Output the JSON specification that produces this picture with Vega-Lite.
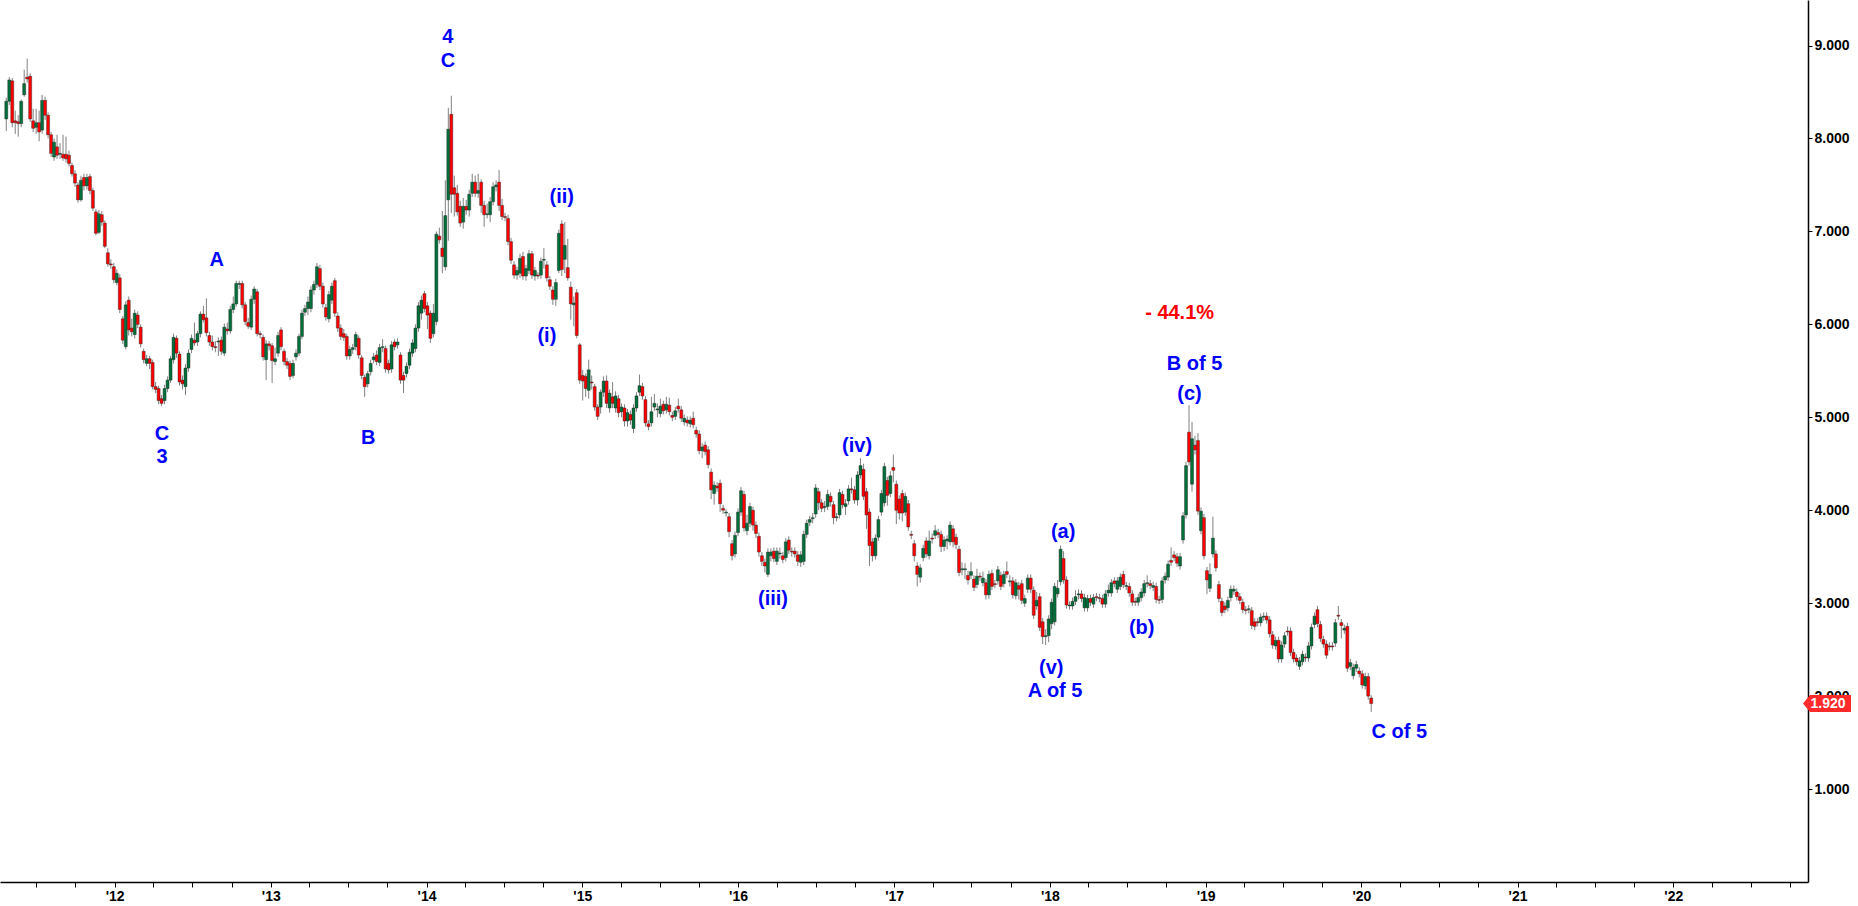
{
  "$schema": "https://vega.github.io/schema/vega-lite/v6.json",
  "description": "Weekly candlestick chart with Elliott wave labels",
  "width": 1808,
  "height": 882,
  "autosize": {"type": "none"},
  "padding": {"left": 0, "top": 0, "right": 50, "bottom": 24},
  "background": "white",
  "config": {"view": {"stroke": null}},
  "datasets": {
    "candles": [
      {"d":"2011-04-22","o":8.21,"h":8.44,"l":8.08,"c":8.40},
      {"d":"2011-04-29","o":8.40,"h":8.66,"l":8.36,"c":8.63},
      {"d":"2011-05-06","o":8.62,"h":8.65,"l":8.12,"c":8.17},
      {"d":"2011-05-13","o":8.19,"h":8.30,"l":8.05,"c":8.17},
      {"d":"2011-05-20","o":8.18,"h":8.25,"l":8.02,"c":8.16},
      {"d":"2011-05-27","o":8.16,"h":8.42,"l":8.12,"c":8.40},
      {"d":"2011-06-03","o":8.47,"h":8.74,"l":8.45,"c":8.59},
      {"d":"2011-06-10","o":8.66,"h":8.86,"l":8.60,"c":8.64},
      {"d":"2011-06-17","o":8.67,"h":8.70,"l":8.18,"c":8.21},
      {"d":"2011-06-24","o":8.19,"h":8.32,"l":8.07,"c":8.11},
      {"d":"2011-07-01","o":8.12,"h":8.32,"l":8.05,"c":8.17},
      {"d":"2011-07-08","o":8.17,"h":8.30,"l":7.97,"c":8.07},
      {"d":"2011-07-15","o":8.09,"h":8.47,"l":8.05,"c":8.41},
      {"d":"2011-07-22","o":8.41,"h":8.45,"l":8.20,"c":8.25},
      {"d":"2011-07-29","o":8.25,"h":8.28,"l":8.00,"c":8.04},
      {"d":"2011-08-05","o":8.04,"h":8.07,"l":7.80,"c":7.84},
      {"d":"2011-08-12","o":7.80,"h":8.00,"l":7.76,"c":7.96},
      {"d":"2011-08-19","o":7.91,"h":8.04,"l":7.78,"c":7.82},
      {"d":"2011-08-26","o":7.83,"h":7.95,"l":7.78,"c":7.84},
      {"d":"2011-09-02","o":7.83,"h":8.04,"l":7.76,"c":7.79},
      {"d":"2011-09-09","o":7.83,"h":8.02,"l":7.74,"c":7.78},
      {"d":"2011-09-16","o":7.82,"h":7.87,"l":7.70,"c":7.73},
      {"d":"2011-09-23","o":7.71,"h":7.74,"l":7.59,"c":7.62},
      {"d":"2011-09-30","o":7.62,"h":7.66,"l":7.48,"c":7.52},
      {"d":"2011-10-07","o":7.50,"h":7.53,"l":7.31,"c":7.34},
      {"d":"2011-10-14","o":7.34,"h":7.60,"l":7.32,"c":7.55},
      {"d":"2011-10-21","o":7.58,"h":7.62,"l":7.44,"c":7.49},
      {"d":"2011-10-28","o":7.49,"h":7.62,"l":7.45,"c":7.58},
      {"d":"2011-11-04","o":7.59,"h":7.62,"l":7.40,"c":7.44},
      {"d":"2011-11-11","o":7.44,"h":7.47,"l":7.22,"c":7.25},
      {"d":"2011-11-18","o":7.21,"h":7.24,"l":6.96,"c":6.98},
      {"d":"2011-11-25","o":6.99,"h":7.23,"l":6.97,"c":7.19},
      {"d":"2011-12-02","o":7.18,"h":7.22,"l":7.06,"c":7.10},
      {"d":"2011-12-09","o":7.09,"h":7.12,"l":6.82,"c":6.84},
      {"d":"2011-12-16","o":6.77,"h":6.82,"l":6.62,"c":6.65},
      {"d":"2011-12-23","o":6.65,"h":6.70,"l":6.60,"c":6.64},
      {"d":"2011-12-30","o":6.62,"h":6.66,"l":6.44,"c":6.48},
      {"d":"2012-01-06","o":6.45,"h":6.59,"l":6.42,"c":6.55},
      {"d":"2012-01-13","o":6.50,"h":6.54,"l":6.12,"c":6.16},
      {"d":"2012-01-20","o":6.06,"h":6.09,"l":5.79,"c":5.83},
      {"d":"2012-01-27","o":5.76,"h":6.25,"l":5.73,"c":6.21},
      {"d":"2012-02-03","o":6.26,"h":6.30,"l":5.88,"c":5.94},
      {"d":"2012-02-10","o":5.96,"h":6.06,"l":5.87,"c":5.92},
      {"d":"2012-02-17","o":5.89,"h":6.16,"l":5.85,"c":6.12},
      {"d":"2012-02-24","o":6.10,"h":6.14,"l":5.96,"c":6.00},
      {"d":"2012-03-02","o":5.97,"h":6.00,"l":5.75,"c":5.79},
      {"d":"2012-03-09","o":5.71,"h":5.74,"l":5.58,"c":5.62},
      {"d":"2012-03-16","o":5.58,"h":5.67,"l":5.55,"c":5.63},
      {"d":"2012-03-23","o":5.63,"h":5.66,"l":5.52,"c":5.58},
      {"d":"2012-03-30","o":5.59,"h":5.62,"l":5.30,"c":5.33},
      {"d":"2012-04-06","o":5.33,"h":5.38,"l":5.26,"c":5.30},
      {"d":"2012-04-13","o":5.31,"h":5.34,"l":5.14,"c":5.18},
      {"d":"2012-04-20","o":5.20,"h":5.24,"l":5.12,"c":5.15},
      {"d":"2012-04-27","o":5.18,"h":5.35,"l":5.14,"c":5.31},
      {"d":"2012-05-04","o":5.31,"h":5.44,"l":5.27,"c":5.40},
      {"d":"2012-05-11","o":5.40,"h":5.66,"l":5.37,"c":5.63},
      {"d":"2012-05-18","o":5.62,"h":5.90,"l":5.58,"c":5.86},
      {"d":"2012-05-25","o":5.85,"h":5.88,"l":5.64,"c":5.69},
      {"d":"2012-06-01","o":5.68,"h":5.71,"l":5.34,"c":5.38},
      {"d":"2012-06-08","o":5.40,"h":5.45,"l":5.30,"c":5.36},
      {"d":"2012-06-15","o":5.33,"h":5.57,"l":5.24,"c":5.53},
      {"d":"2012-06-22","o":5.53,"h":5.73,"l":5.49,"c":5.69},
      {"d":"2012-06-29","o":5.73,"h":5.89,"l":5.69,"c":5.85},
      {"d":"2012-07-06","o":5.83,"h":6.02,"l":5.77,"c":5.80},
      {"d":"2012-07-13","o":5.81,"h":5.93,"l":5.77,"c":5.90},
      {"d":"2012-07-20","o":5.90,"h":6.14,"l":5.86,"c":6.11},
      {"d":"2012-07-27","o":6.11,"h":6.20,"l":6.02,"c":6.05},
      {"d":"2012-08-03","o":6.07,"h":6.28,"l":5.87,"c":5.91},
      {"d":"2012-08-10","o":5.88,"h":5.92,"l":5.77,"c":5.81},
      {"d":"2012-08-17","o":5.81,"h":5.88,"l":5.72,"c":5.76},
      {"d":"2012-08-24","o":5.76,"h":5.82,"l":5.70,"c":5.75},
      {"d":"2012-08-31","o":5.81,"h":5.86,"l":5.66,"c":5.82},
      {"d":"2012-09-07","o":5.83,"h":5.87,"l":5.67,"c":5.71},
      {"d":"2012-09-14","o":5.69,"h":6.01,"l":5.66,"c":5.97},
      {"d":"2012-09-21","o":5.95,"h":6.02,"l":5.89,"c":5.93},
      {"d":"2012-09-28","o":5.93,"h":6.20,"l":5.90,"c":6.16},
      {"d":"2012-10-05","o":6.16,"h":6.30,"l":6.12,"c":6.22},
      {"d":"2012-10-12","o":6.22,"h":6.47,"l":6.19,"c":6.44},
      {"d":"2012-10-19","o":6.43,"h":6.47,"l":6.38,"c":6.44},
      {"d":"2012-10-26","o":6.44,"h":6.47,"l":6.17,"c":6.21},
      {"d":"2012-11-02","o":6.21,"h":6.24,"l":5.99,"c":6.03},
      {"d":"2012-11-09","o":6.02,"h":6.07,"l":5.95,"c":5.98},
      {"d":"2012-11-16","o":5.97,"h":6.31,"l":5.94,"c":6.27},
      {"d":"2012-11-23","o":6.27,"h":6.41,"l":6.22,"c":6.38},
      {"d":"2012-11-30","o":6.35,"h":6.38,"l":5.87,"c":5.90},
      {"d":"2012-12-07","o":5.90,"h":5.93,"l":5.85,"c":5.89},
      {"d":"2012-12-14","o":5.86,"h":5.89,"l":5.61,"c":5.65},
      {"d":"2012-12-21","o":5.62,"h":5.83,"l":5.40,"c":5.79},
      {"d":"2012-12-28","o":5.79,"h":5.82,"l":5.72,"c":5.77},
      {"d":"2013-01-04","o":5.77,"h":5.80,"l":5.37,"c":5.61},
      {"d":"2013-01-11","o":5.60,"h":5.75,"l":5.56,"c":5.63},
      {"d":"2013-01-18","o":5.69,"h":5.92,"l":5.65,"c":5.88},
      {"d":"2013-01-25","o":5.94,"h":5.97,"l":5.72,"c":5.76},
      {"d":"2013-02-01","o":5.71,"h":5.74,"l":5.56,"c":5.60},
      {"d":"2013-02-08","o":5.60,"h":5.64,"l":5.52,"c":5.56},
      {"d":"2013-02-15","o":5.58,"h":5.61,"l":5.40,"c":5.44},
      {"d":"2013-02-22","o":5.45,"h":5.62,"l":5.42,"c":5.58},
      {"d":"2013-03-01","o":5.65,"h":5.73,"l":5.61,"c":5.69},
      {"d":"2013-03-08","o":5.69,"h":5.90,"l":5.66,"c":5.87},
      {"d":"2013-03-15","o":5.87,"h":6.16,"l":5.84,"c":6.12},
      {"d":"2013-03-22","o":6.13,"h":6.21,"l":6.09,"c":6.17},
      {"d":"2013-03-29","o":6.17,"h":6.30,"l":6.10,"c":6.24},
      {"d":"2013-04-05","o":6.17,"h":6.41,"l":6.13,"c":6.37},
      {"d":"2013-04-12","o":6.37,"h":6.47,"l":6.32,"c":6.43},
      {"d":"2013-04-19","o":6.43,"h":6.66,"l":6.39,"c":6.62},
      {"d":"2013-04-26","o":6.60,"h":6.64,"l":6.37,"c":6.41},
      {"d":"2013-05-03","o":6.41,"h":6.45,"l":6.18,"c":6.22},
      {"d":"2013-05-10","o":6.18,"h":6.22,"l":6.04,"c":6.08},
      {"d":"2013-05-17","o":6.06,"h":6.36,"l":6.02,"c":6.32},
      {"d":"2013-05-24","o":6.26,"h":6.45,"l":6.22,"c":6.41},
      {"d":"2013-05-31","o":6.47,"h":6.50,"l":6.08,"c":6.12},
      {"d":"2013-06-07","o":6.09,"h":6.13,"l":5.92,"c":5.96},
      {"d":"2013-06-14","o":5.96,"h":6.00,"l":5.83,"c":5.87},
      {"d":"2013-06-21","o":5.90,"h":5.95,"l":5.82,"c":5.86},
      {"d":"2013-06-28","o":5.87,"h":5.90,"l":5.62,"c":5.66},
      {"d":"2013-07-05","o":5.66,"h":5.77,"l":5.62,"c":5.73},
      {"d":"2013-07-12","o":5.73,"h":5.79,"l":5.68,"c":5.75},
      {"d":"2013-07-19","o":5.76,"h":5.92,"l":5.72,"c":5.89},
      {"d":"2013-07-26","o":5.85,"h":5.88,"l":5.63,"c":5.67},
      {"d":"2013-08-02","o":5.64,"h":5.67,"l":5.41,"c":5.45},
      {"d":"2013-08-09","o":5.43,"h":5.46,"l":5.22,"c":5.33},
      {"d":"2013-08-16","o":5.36,"h":5.50,"l":5.32,"c":5.47},
      {"d":"2013-08-23","o":5.49,"h":5.62,"l":5.45,"c":5.58},
      {"d":"2013-08-30","o":5.62,"h":5.69,"l":5.58,"c":5.65},
      {"d":"2013-09-06","o":5.67,"h":5.72,"l":5.56,"c":5.60},
      {"d":"2013-09-13","o":5.59,"h":5.79,"l":5.55,"c":5.75},
      {"d":"2013-09-20","o":5.75,"h":5.84,"l":5.70,"c":5.76},
      {"d":"2013-09-27","o":5.74,"h":5.77,"l":5.48,"c":5.52},
      {"d":"2013-10-04","o":5.58,"h":5.62,"l":5.47,"c":5.51},
      {"d":"2013-10-11","o":5.52,"h":5.82,"l":5.48,"c":5.78},
      {"d":"2013-10-18","o":5.81,"h":5.84,"l":5.72,"c":5.76},
      {"d":"2013-10-25","o":5.78,"h":5.85,"l":5.74,"c":5.81},
      {"d":"2013-11-01","o":5.67,"h":5.70,"l":5.36,"c":5.40},
      {"d":"2013-11-08","o":5.45,"h":5.49,"l":5.26,"c":5.40},
      {"d":"2013-11-15","o":5.47,"h":5.59,"l":5.43,"c":5.55},
      {"d":"2013-11-22","o":5.56,"h":5.74,"l":5.52,"c":5.70},
      {"d":"2013-11-29","o":5.69,"h":5.84,"l":5.65,"c":5.80},
      {"d":"2013-12-06","o":5.74,"h":6.00,"l":5.70,"c":5.96},
      {"d":"2013-12-13","o":5.96,"h":6.24,"l":5.92,"c":6.20},
      {"d":"2013-12-20","o":6.12,"h":6.31,"l":6.05,"c":6.26},
      {"d":"2013-12-27","o":6.33,"h":6.36,"l":6.13,"c":6.17},
      {"d":"2014-01-03","o":6.20,"h":6.24,"l":5.95,"c":6.10},
      {"d":"2014-01-10","o":6.12,"h":6.15,"l":5.80,"c":5.85},
      {"d":"2014-01-17","o":5.90,"h":6.22,"l":5.86,"c":6.12},
      {"d":"2014-01-24","o":6.03,"h":7.00,"l":5.99,"c":6.97},
      {"d":"2014-01-31","o":6.95,"h":7.04,"l":6.87,"c":6.91},
      {"d":"2014-02-07","o":6.82,"h":7.22,"l":6.55,"c":6.73},
      {"d":"2014-02-14","o":6.62,"h":7.55,"l":6.58,"c":7.17},
      {"d":"2014-02-21","o":7.34,"h":8.33,"l":6.90,"c":8.10},
      {"d":"2014-02-28","o":8.26,"h":8.46,"l":7.20,"c":7.40},
      {"d":"2014-03-07","o":7.47,"h":7.60,"l":7.16,"c":7.40},
      {"d":"2014-03-14","o":7.41,"h":7.50,"l":7.17,"c":7.21},
      {"d":"2014-03-21","o":7.27,"h":7.33,"l":7.05,"c":7.09},
      {"d":"2014-03-28","o":7.10,"h":7.36,"l":7.03,"c":7.27},
      {"d":"2014-04-04","o":7.27,"h":7.34,"l":7.18,"c":7.23},
      {"d":"2014-04-11","o":7.23,"h":7.45,"l":7.16,"c":7.40},
      {"d":"2014-04-18","o":7.41,"h":7.62,"l":7.37,"c":7.53},
      {"d":"2014-04-25","o":7.53,"h":7.60,"l":7.37,"c":7.41},
      {"d":"2014-05-02","o":7.41,"h":7.62,"l":7.36,"c":7.44},
      {"d":"2014-05-09","o":7.53,"h":7.56,"l":7.20,"c":7.28},
      {"d":"2014-05-16","o":7.28,"h":7.33,"l":7.05,"c":7.18},
      {"d":"2014-05-23","o":7.18,"h":7.30,"l":7.14,"c":7.19},
      {"d":"2014-05-30","o":7.18,"h":7.37,"l":7.10,"c":7.32},
      {"d":"2014-06-06","o":7.32,"h":7.53,"l":7.28,"c":7.48},
      {"d":"2014-06-13","o":7.48,"h":7.55,"l":7.43,"c":7.50},
      {"d":"2014-06-20","o":7.53,"h":7.66,"l":7.22,"c":7.28},
      {"d":"2014-06-27","o":7.28,"h":7.35,"l":7.12,"c":7.16},
      {"d":"2014-07-04","o":7.16,"h":7.20,"l":7.11,"c":7.15},
      {"d":"2014-07-11","o":7.14,"h":7.18,"l":6.85,"c":6.89},
      {"d":"2014-07-18","o":6.89,"h":6.93,"l":6.65,"c":6.69},
      {"d":"2014-07-25","o":6.64,"h":6.68,"l":6.49,"c":6.53},
      {"d":"2014-08-01","o":6.53,"h":6.62,"l":6.48,"c":6.58},
      {"d":"2014-08-08","o":6.55,"h":6.76,"l":6.50,"c":6.71},
      {"d":"2014-08-15","o":6.73,"h":6.78,"l":6.48,"c":6.52},
      {"d":"2014-08-22","o":6.52,"h":6.64,"l":6.47,"c":6.60},
      {"d":"2014-08-29","o":6.58,"h":6.80,"l":6.54,"c":6.76},
      {"d":"2014-09-05","o":6.76,"h":6.79,"l":6.49,"c":6.53},
      {"d":"2014-09-12","o":6.52,"h":6.62,"l":6.47,"c":6.58},
      {"d":"2014-09-19","o":6.53,"h":6.56,"l":6.49,"c":6.52},
      {"d":"2014-09-26","o":6.53,"h":6.72,"l":6.49,"c":6.68},
      {"d":"2014-10-03","o":6.69,"h":6.82,"l":6.60,"c":6.70},
      {"d":"2014-10-10","o":6.64,"h":6.68,"l":6.46,"c":6.50},
      {"d":"2014-10-17","o":6.48,"h":6.52,"l":6.37,"c":6.41},
      {"d":"2014-10-24","o":6.37,"h":6.41,"l":6.21,"c":6.27},
      {"d":"2014-10-31","o":6.27,"h":6.49,"l":6.20,"c":6.45},
      {"d":"2014-11-07","o":6.58,"h":7.02,"l":6.55,"c":6.98},
      {"d":"2014-11-14","o":7.08,"h":7.12,"l":6.52,"c":6.59},
      {"d":"2014-11-21","o":6.70,"h":7.10,"l":6.55,"c":6.85},
      {"d":"2014-11-28","o":6.61,"h":6.92,"l":6.47,"c":6.50},
      {"d":"2014-12-05","o":6.40,"h":6.46,"l":6.05,"c":6.22},
      {"d":"2014-12-12","o":6.21,"h":6.30,"l":5.98,"c":6.23},
      {"d":"2014-12-19","o":6.34,"h":6.38,"l":5.85,"c":5.88},
      {"d":"2014-12-26","o":5.78,"h":5.80,"l":5.36,"c":5.40},
      {"d":"2015-01-02","o":5.45,"h":5.51,"l":5.18,"c":5.39},
      {"d":"2015-01-09","o":5.44,"h":5.47,"l":5.22,"c":5.31},
      {"d":"2015-01-16","o":5.29,"h":5.62,"l":5.20,"c":5.51},
      {"d":"2015-01-23","o":5.38,"h":5.45,"l":5.30,"c":5.37},
      {"d":"2015-01-30","o":5.33,"h":5.36,"l":5.07,"c":5.11},
      {"d":"2015-02-06","o":5.11,"h":5.14,"l":4.97,"c":5.01},
      {"d":"2015-02-13","o":5.11,"h":5.30,"l":5.04,"c":5.27},
      {"d":"2015-02-20","o":5.27,"h":5.44,"l":5.22,"c":5.39},
      {"d":"2015-02-27","o":5.39,"h":5.45,"l":5.10,"c":5.15},
      {"d":"2015-03-06","o":5.10,"h":5.30,"l":5.05,"c":5.26},
      {"d":"2015-03-13","o":5.22,"h":5.38,"l":5.10,"c":5.15},
      {"d":"2015-03-20","o":5.10,"h":5.28,"l":5.05,"c":5.23},
      {"d":"2015-03-27","o":5.20,"h":5.24,"l":5.00,"c":5.05},
      {"d":"2015-04-03","o":5.06,"h":5.15,"l":5.00,"c":5.11},
      {"d":"2015-04-10","o":5.10,"h":5.14,"l":4.90,"c":4.96},
      {"d":"2015-04-17","o":4.96,"h":5.09,"l":4.90,"c":5.05},
      {"d":"2015-04-24","o":5.03,"h":5.07,"l":4.92,"c":4.97},
      {"d":"2015-05-01","o":4.88,"h":5.14,"l":4.83,"c":5.10},
      {"d":"2015-05-08","o":5.10,"h":5.27,"l":5.06,"c":5.23},
      {"d":"2015-05-15","o":5.27,"h":5.46,"l":5.23,"c":5.34},
      {"d":"2015-05-22","o":5.33,"h":5.37,"l":5.19,"c":5.23},
      {"d":"2015-05-29","o":5.19,"h":5.23,"l":4.90,"c":4.94},
      {"d":"2015-06-05","o":4.93,"h":4.97,"l":4.86,"c":4.90},
      {"d":"2015-06-12","o":4.94,"h":5.22,"l":4.90,"c":5.06},
      {"d":"2015-06-19","o":5.11,"h":5.25,"l":5.07,"c":5.15},
      {"d":"2015-06-26","o":5.08,"h":5.15,"l":5.00,"c":5.09},
      {"d":"2015-07-03","o":5.04,"h":5.20,"l":5.00,"c":5.12},
      {"d":"2015-07-10","o":5.14,"h":5.18,"l":5.03,"c":5.07},
      {"d":"2015-07-17","o":5.08,"h":5.22,"l":5.04,"c":5.14},
      {"d":"2015-07-24","o":5.13,"h":5.21,"l":5.02,"c":5.06},
      {"d":"2015-07-31","o":5.02,"h":5.06,"l":4.96,"c":5.00},
      {"d":"2015-08-07","o":5.01,"h":5.11,"l":4.97,"c":5.07},
      {"d":"2015-08-14","o":5.12,"h":5.20,"l":5.05,"c":5.09},
      {"d":"2015-08-21","o":5.08,"h":5.12,"l":4.95,"c":4.99},
      {"d":"2015-08-28","o":4.95,"h":5.03,"l":4.91,"c":4.99},
      {"d":"2015-09-04","o":4.97,"h":5.01,"l":4.90,"c":4.94},
      {"d":"2015-09-11","o":4.93,"h":5.01,"l":4.89,"c":4.97},
      {"d":"2015-09-18","o":4.99,"h":5.06,"l":4.88,"c":4.92},
      {"d":"2015-09-25","o":4.86,"h":4.90,"l":4.78,"c":4.82},
      {"d":"2015-10-02","o":4.82,"h":4.86,"l":4.60,"c":4.64},
      {"d":"2015-10-09","o":4.64,"h":4.72,"l":4.56,"c":4.68},
      {"d":"2015-10-16","o":4.70,"h":4.74,"l":4.59,"c":4.63},
      {"d":"2015-10-23","o":4.65,"h":4.69,"l":4.45,"c":4.49},
      {"d":"2015-10-30","o":4.41,"h":4.45,"l":4.12,"c":4.22},
      {"d":"2015-11-06","o":4.18,"h":4.31,"l":4.06,"c":4.27},
      {"d":"2015-11-13","o":4.26,"h":4.30,"l":4.20,"c":4.24},
      {"d":"2015-11-20","o":4.29,"h":4.33,"l":3.98,"c":4.07},
      {"d":"2015-11-27","o":4.02,"h":4.06,"l":3.96,"c":4.00},
      {"d":"2015-12-04","o":3.97,"h":4.01,"l":3.93,"c":3.98},
      {"d":"2015-12-11","o":3.93,"h":3.97,"l":3.71,"c":3.77},
      {"d":"2015-12-18","o":3.64,"h":3.68,"l":3.46,"c":3.51},
      {"d":"2015-12-25","o":3.53,"h":3.77,"l":3.49,"c":3.73},
      {"d":"2016-01-01","o":3.76,"h":4.02,"l":3.72,"c":3.98},
      {"d":"2016-01-08","o":3.98,"h":4.25,"l":3.94,"c":4.21},
      {"d":"2016-01-15","o":4.17,"h":4.21,"l":3.77,"c":3.81},
      {"d":"2016-01-22","o":3.78,"h":3.95,"l":3.73,"c":3.86},
      {"d":"2016-01-29","o":3.86,"h":4.08,"l":3.82,"c":4.04},
      {"d":"2016-02-05","o":4.00,"h":4.04,"l":3.78,"c":3.84},
      {"d":"2016-02-12","o":3.84,"h":3.88,"l":3.70,"c":3.75},
      {"d":"2016-02-19","o":3.72,"h":3.76,"l":3.50,"c":3.55},
      {"d":"2016-02-26","o":3.51,"h":3.55,"l":3.40,"c":3.45},
      {"d":"2016-03-04","o":3.44,"h":3.48,"l":3.33,"c":3.40},
      {"d":"2016-03-11","o":3.31,"h":3.59,"l":3.28,"c":3.55},
      {"d":"2016-03-18","o":3.51,"h":3.59,"l":3.45,"c":3.55},
      {"d":"2016-03-25","o":3.56,"h":3.60,"l":3.44,"c":3.48},
      {"d":"2016-04-01","o":3.45,"h":3.60,"l":3.41,"c":3.56},
      {"d":"2016-04-08","o":3.53,"h":3.60,"l":3.48,"c":3.54},
      {"d":"2016-04-15","o":3.51,"h":3.55,"l":3.43,"c":3.47},
      {"d":"2016-04-22","o":3.49,"h":3.70,"l":3.45,"c":3.66},
      {"d":"2016-04-29","o":3.68,"h":3.72,"l":3.53,"c":3.57},
      {"d":"2016-05-06","o":3.56,"h":3.60,"l":3.50,"c":3.55},
      {"d":"2016-05-13","o":3.56,"h":3.60,"l":3.49,"c":3.53},
      {"d":"2016-05-20","o":3.52,"h":3.56,"l":3.40,"c":3.45},
      {"d":"2016-05-27","o":3.44,"h":3.56,"l":3.39,"c":3.52},
      {"d":"2016-06-03","o":3.45,"h":3.78,"l":3.41,"c":3.74},
      {"d":"2016-06-10","o":3.74,"h":3.90,"l":3.70,"c":3.86},
      {"d":"2016-06-17","o":3.87,"h":3.94,"l":3.83,"c":3.90},
      {"d":"2016-06-24","o":3.91,"h":3.97,"l":3.86,"c":3.92},
      {"d":"2016-07-01","o":3.96,"h":4.28,"l":3.92,"c":4.24},
      {"d":"2016-07-08","o":4.20,"h":4.24,"l":4.00,"c":4.08},
      {"d":"2016-07-15","o":4.08,"h":4.12,"l":3.98,"c":4.02},
      {"d":"2016-07-22","o":4.03,"h":4.10,"l":3.98,"c":4.04},
      {"d":"2016-07-29","o":4.04,"h":4.22,"l":4.00,"c":4.17},
      {"d":"2016-08-05","o":4.15,"h":4.19,"l":4.04,"c":4.09},
      {"d":"2016-08-12","o":4.06,"h":4.10,"l":3.85,"c":3.92},
      {"d":"2016-08-19","o":3.92,"h":3.97,"l":3.88,"c":3.93},
      {"d":"2016-08-26","o":3.95,"h":4.23,"l":3.91,"c":4.19},
      {"d":"2016-09-02","o":4.17,"h":4.21,"l":4.02,"c":4.06},
      {"d":"2016-09-09","o":4.04,"h":4.12,"l":3.95,"c":4.07},
      {"d":"2016-09-16","o":4.10,"h":4.27,"l":4.06,"c":4.23},
      {"d":"2016-09-23","o":4.23,"h":4.35,"l":4.18,"c":4.22},
      {"d":"2016-09-30","o":4.22,"h":4.26,"l":4.07,"c":4.11},
      {"d":"2016-10-07","o":4.11,"h":4.42,"l":4.05,"c":4.38},
      {"d":"2016-10-14","o":4.38,"h":4.56,"l":4.34,"c":4.48},
      {"d":"2016-10-21","o":4.44,"h":4.50,"l":4.11,"c":4.15},
      {"d":"2016-10-28","o":4.20,"h":4.24,"l":3.80,"c":3.95},
      {"d":"2016-11-04","o":3.98,"h":4.02,"l":3.40,"c":3.62},
      {"d":"2016-11-11","o":3.66,"h":3.70,"l":3.45,"c":3.51},
      {"d":"2016-11-18","o":3.51,"h":3.74,"l":3.47,"c":3.70},
      {"d":"2016-11-25","o":3.71,"h":3.94,"l":3.67,"c":3.90},
      {"d":"2016-12-02","o":3.98,"h":4.22,"l":3.94,"c":4.18},
      {"d":"2016-12-09","o":4.08,"h":4.51,"l":4.04,"c":4.47},
      {"d":"2016-12-16","o":4.32,"h":4.36,"l":4.05,"c":4.16},
      {"d":"2016-12-23","o":4.18,"h":4.42,"l":4.14,"c":4.37},
      {"d":"2016-12-30","o":4.46,"h":4.60,"l":4.30,"c":4.43},
      {"d":"2017-01-06","o":4.28,"h":4.32,"l":3.85,"c":4.00},
      {"d":"2017-01-13","o":4.12,"h":4.16,"l":3.90,"c":3.97},
      {"d":"2017-01-20","o":4.18,"h":4.22,"l":3.88,"c":3.97},
      {"d":"2017-01-27","o":3.98,"h":4.19,"l":3.94,"c":4.15},
      {"d":"2017-02-03","o":4.07,"h":4.11,"l":3.78,"c":3.82},
      {"d":"2017-02-10","o":3.74,"h":3.78,"l":3.69,"c":3.73},
      {"d":"2017-02-17","o":3.64,"h":3.68,"l":3.45,"c":3.51},
      {"d":"2017-02-24","o":3.40,"h":3.44,"l":3.18,"c":3.31},
      {"d":"2017-03-03","o":3.28,"h":3.42,"l":3.22,"c":3.38},
      {"d":"2017-03-10","o":3.49,"h":3.63,"l":3.45,"c":3.59},
      {"d":"2017-03-17","o":3.67,"h":3.71,"l":3.49,"c":3.53},
      {"d":"2017-03-24","o":3.51,"h":3.78,"l":3.47,"c":3.67},
      {"d":"2017-03-31","o":3.70,"h":3.75,"l":3.64,"c":3.69},
      {"d":"2017-04-07","o":3.73,"h":3.84,"l":3.69,"c":3.78},
      {"d":"2017-04-14","o":3.76,"h":3.80,"l":3.70,"c":3.74},
      {"d":"2017-04-21","o":3.74,"h":3.78,"l":3.55,"c":3.61},
      {"d":"2017-04-28","o":3.61,"h":3.72,"l":3.56,"c":3.68},
      {"d":"2017-05-05","o":3.67,"h":3.73,"l":3.58,"c":3.69},
      {"d":"2017-05-12","o":3.66,"h":3.88,"l":3.62,"c":3.84},
      {"d":"2017-05-19","o":3.80,"h":3.84,"l":3.60,"c":3.66},
      {"d":"2017-05-26","o":3.71,"h":3.75,"l":3.58,"c":3.63},
      {"d":"2017-06-02","o":3.58,"h":3.62,"l":3.29,"c":3.33},
      {"d":"2017-06-09","o":3.36,"h":3.44,"l":3.30,"c":3.37},
      {"d":"2017-06-16","o":3.36,"h":3.43,"l":3.26,"c":3.37},
      {"d":"2017-06-23","o":3.30,"h":3.35,"l":3.20,"c":3.25},
      {"d":"2017-06-30","o":3.30,"h":3.44,"l":3.26,"c":3.34},
      {"d":"2017-07-07","o":3.26,"h":3.30,"l":3.13,"c":3.17},
      {"d":"2017-07-14","o":3.20,"h":3.37,"l":3.16,"c":3.29},
      {"d":"2017-07-21","o":3.29,"h":3.33,"l":3.24,"c":3.28},
      {"d":"2017-07-28","o":3.22,"h":3.34,"l":3.18,"c":3.27},
      {"d":"2017-08-04","o":3.22,"h":3.26,"l":3.04,"c":3.09},
      {"d":"2017-08-11","o":3.09,"h":3.35,"l":3.05,"c":3.31},
      {"d":"2017-08-18","o":3.32,"h":3.36,"l":3.14,"c":3.18},
      {"d":"2017-08-25","o":3.21,"h":3.25,"l":3.16,"c":3.20},
      {"d":"2017-09-01","o":3.24,"h":3.40,"l":3.20,"c":3.36},
      {"d":"2017-09-08","o":3.30,"h":3.34,"l":3.14,"c":3.18},
      {"d":"2017-09-15","o":3.21,"h":3.35,"l":3.17,"c":3.31},
      {"d":"2017-09-22","o":3.34,"h":3.45,"l":3.27,"c":3.31},
      {"d":"2017-09-29","o":3.23,"h":3.30,"l":3.18,"c":3.24},
      {"d":"2017-10-06","o":3.24,"h":3.28,"l":3.05,"c":3.09},
      {"d":"2017-10-13","o":3.08,"h":3.26,"l":3.04,"c":3.22},
      {"d":"2017-10-20","o":3.19,"h":3.23,"l":3.04,"c":3.15},
      {"d":"2017-10-27","o":3.21,"h":3.25,"l":2.99,"c":3.03},
      {"d":"2017-11-03","o":3.00,"h":3.09,"l":2.96,"c":3.05},
      {"d":"2017-11-10","o":3.15,"h":3.31,"l":3.11,"c":3.27},
      {"d":"2017-11-17","o":3.27,"h":3.31,"l":3.11,"c":3.15},
      {"d":"2017-11-24","o":3.14,"h":3.18,"l":2.83,"c":2.87},
      {"d":"2017-12-01","o":2.97,"h":3.12,"l":2.93,"c":3.03},
      {"d":"2017-12-08","o":3.07,"h":3.11,"l":2.70,"c":2.74},
      {"d":"2017-12-15","o":2.80,"h":2.84,"l":2.56,"c":2.64},
      {"d":"2017-12-22","o":2.64,"h":2.72,"l":2.55,"c":2.65},
      {"d":"2017-12-29","o":2.65,"h":2.87,"l":2.58,"c":2.83},
      {"d":"2018-01-05","o":2.78,"h":3.05,"l":2.72,"c":3.01},
      {"d":"2018-01-12","o":2.80,"h":3.22,"l":2.76,"c":3.18},
      {"d":"2018-01-19","o":3.10,"h":3.25,"l":3.06,"c":3.16},
      {"d":"2018-01-26","o":3.23,"h":3.62,"l":3.19,"c":3.58},
      {"d":"2018-02-02","o":3.48,"h":3.56,"l":3.21,"c":3.25},
      {"d":"2018-02-09","o":3.25,"h":3.29,"l":2.94,"c":2.98},
      {"d":"2018-02-16","o":2.97,"h":3.02,"l":2.93,"c":2.98},
      {"d":"2018-02-23","o":2.97,"h":3.06,"l":2.93,"c":3.02},
      {"d":"2018-03-02","o":3.02,"h":3.14,"l":2.98,"c":3.07},
      {"d":"2018-03-09","o":3.09,"h":3.15,"l":3.04,"c":3.10},
      {"d":"2018-03-16","o":3.10,"h":3.14,"l":3.01,"c":3.05},
      {"d":"2018-03-23","o":2.95,"h":3.10,"l":2.91,"c":3.06},
      {"d":"2018-03-30","o":2.95,"h":3.09,"l":2.91,"c":3.05},
      {"d":"2018-04-06","o":3.05,"h":3.09,"l":2.97,"c":3.01},
      {"d":"2018-04-13","o":2.99,"h":3.10,"l":2.95,"c":3.06},
      {"d":"2018-04-20","o":3.07,"h":3.11,"l":3.02,"c":3.06},
      {"d":"2018-04-27","o":3.06,"h":3.10,"l":3.01,"c":3.05},
      {"d":"2018-05-04","o":3.05,"h":3.09,"l":2.95,"c":2.99},
      {"d":"2018-05-11","o":2.99,"h":3.14,"l":2.95,"c":3.10},
      {"d":"2018-05-18","o":3.11,"h":3.20,"l":3.07,"c":3.14},
      {"d":"2018-05-25","o":3.11,"h":3.26,"l":3.07,"c":3.22},
      {"d":"2018-06-01","o":3.24,"h":3.28,"l":3.17,"c":3.21},
      {"d":"2018-06-08","o":3.15,"h":3.28,"l":3.11,"c":3.24},
      {"d":"2018-06-15","o":3.18,"h":3.32,"l":3.14,"c":3.28},
      {"d":"2018-06-22","o":3.31,"h":3.35,"l":3.16,"c":3.20},
      {"d":"2018-06-29","o":3.18,"h":3.23,"l":3.14,"c":3.19},
      {"d":"2018-07-06","o":3.18,"h":3.22,"l":3.07,"c":3.11},
      {"d":"2018-07-13","o":3.10,"h":3.14,"l":2.97,"c":3.01},
      {"d":"2018-07-20","o":3.02,"h":3.06,"l":2.97,"c":3.01},
      {"d":"2018-07-27","o":3.01,"h":3.10,"l":2.97,"c":3.06},
      {"d":"2018-08-03","o":3.06,"h":3.16,"l":3.02,"c":3.12},
      {"d":"2018-08-10","o":3.11,"h":3.25,"l":3.07,"c":3.21},
      {"d":"2018-08-17","o":3.21,"h":3.30,"l":3.17,"c":3.22},
      {"d":"2018-08-24","o":3.21,"h":3.25,"l":3.15,"c":3.19},
      {"d":"2018-08-31","o":3.17,"h":3.23,"l":3.13,"c":3.19},
      {"d":"2018-09-07","o":3.18,"h":3.22,"l":3.00,"c":3.04},
      {"d":"2018-09-14","o":3.04,"h":3.08,"l":2.99,"c":3.03},
      {"d":"2018-09-21","o":3.04,"h":3.28,"l":3.00,"c":3.24},
      {"d":"2018-09-28","o":3.25,"h":3.33,"l":3.21,"c":3.29},
      {"d":"2018-10-05","o":3.28,"h":3.46,"l":3.24,"c":3.42},
      {"d":"2018-10-12","o":3.46,"h":3.60,"l":3.40,"c":3.44},
      {"d":"2018-10-19","o":3.52,"h":3.56,"l":3.45,"c":3.49},
      {"d":"2018-10-26","o":3.50,"h":3.54,"l":3.39,"c":3.43},
      {"d":"2018-11-02","o":3.40,"h":3.54,"l":3.36,"c":3.50},
      {"d":"2018-11-09","o":3.68,"h":3.98,"l":3.64,"c":3.94},
      {"d":"2018-11-16","o":3.95,"h":4.52,"l":3.91,"c":4.48},
      {"d":"2018-11-23","o":4.84,"h":5.13,"l":4.48,"c":4.52},
      {"d":"2018-11-30","o":4.28,"h":4.95,"l":4.20,"c":4.77},
      {"d":"2018-12-07","o":4.70,"h":4.80,"l":4.60,"c":4.65},
      {"d":"2018-12-14","o":4.75,"h":4.83,"l":3.95,"c":3.99},
      {"d":"2018-12-21","o":3.78,"h":4.03,"l":3.74,"c":3.99},
      {"d":"2018-12-28","o":3.92,"h":3.96,"l":3.47,"c":3.51},
      {"d":"2019-01-04","o":3.35,"h":3.39,"l":3.10,"c":3.25},
      {"d":"2019-01-11","o":3.16,"h":3.43,"l":3.12,"c":3.31},
      {"d":"2019-01-18","o":3.53,"h":3.93,"l":3.49,"c":3.70},
      {"d":"2019-01-25","o":3.53,"h":3.57,"l":3.34,"c":3.38},
      {"d":"2019-02-01","o":3.20,"h":3.24,"l":3.01,"c":3.05},
      {"d":"2019-02-08","o":3.02,"h":3.06,"l":2.86,"c":2.90},
      {"d":"2019-02-15","o":2.97,"h":3.01,"l":2.89,"c":2.93},
      {"d":"2019-02-22","o":2.95,"h":3.07,"l":2.91,"c":3.03},
      {"d":"2019-03-01","o":3.06,"h":3.19,"l":3.02,"c":3.15},
      {"d":"2019-03-08","o":3.13,"h":3.19,"l":3.09,"c":3.15},
      {"d":"2019-03-15","o":3.12,"h":3.16,"l":3.03,"c":3.07},
      {"d":"2019-03-22","o":3.07,"h":3.11,"l":2.99,"c":3.03},
      {"d":"2019-03-29","o":3.01,"h":3.05,"l":2.89,"c":2.93},
      {"d":"2019-04-05","o":2.93,"h":2.97,"l":2.88,"c":2.92},
      {"d":"2019-04-12","o":2.93,"h":2.98,"l":2.89,"c":2.94},
      {"d":"2019-04-19","o":2.92,"h":2.96,"l":2.72,"c":2.76},
      {"d":"2019-04-26","o":2.80,"h":2.84,"l":2.71,"c":2.75},
      {"d":"2019-05-03","o":2.80,"h":2.84,"l":2.75,"c":2.79},
      {"d":"2019-05-10","o":2.79,"h":2.89,"l":2.75,"c":2.85},
      {"d":"2019-05-17","o":2.85,"h":2.90,"l":2.81,"c":2.86},
      {"d":"2019-05-24","o":2.86,"h":2.90,"l":2.78,"c":2.82},
      {"d":"2019-05-31","o":2.82,"h":2.86,"l":2.63,"c":2.67},
      {"d":"2019-06-07","o":2.66,"h":2.70,"l":2.51,"c":2.55},
      {"d":"2019-06-14","o":2.54,"h":2.64,"l":2.50,"c":2.60},
      {"d":"2019-06-21","o":2.60,"h":2.64,"l":2.36,"c":2.40},
      {"d":"2019-06-28","o":2.40,"h":2.59,"l":2.36,"c":2.55},
      {"d":"2019-07-05","o":2.56,"h":2.69,"l":2.52,"c":2.65},
      {"d":"2019-07-12","o":2.70,"h":2.75,"l":2.65,"c":2.69},
      {"d":"2019-07-19","o":2.70,"h":2.74,"l":2.43,"c":2.47},
      {"d":"2019-07-26","o":2.47,"h":2.51,"l":2.36,"c":2.40},
      {"d":"2019-08-02","o":2.41,"h":2.45,"l":2.33,"c":2.37},
      {"d":"2019-08-09","o":2.32,"h":2.42,"l":2.28,"c":2.38},
      {"d":"2019-08-16","o":2.37,"h":2.49,"l":2.33,"c":2.45},
      {"d":"2019-08-23","o":2.42,"h":2.46,"l":2.37,"c":2.41},
      {"d":"2019-08-30","o":2.41,"h":2.58,"l":2.37,"c":2.54},
      {"d":"2019-09-06","o":2.54,"h":2.78,"l":2.50,"c":2.74},
      {"d":"2019-09-13","o":2.77,"h":2.90,"l":2.73,"c":2.86},
      {"d":"2019-09-20","o":2.93,"h":2.97,"l":2.74,"c":2.78},
      {"d":"2019-09-27","o":2.77,"h":2.81,"l":2.58,"c":2.62},
      {"d":"2019-10-04","o":2.61,"h":2.65,"l":2.52,"c":2.56},
      {"d":"2019-10-11","o":2.56,"h":2.60,"l":2.40,"c":2.44},
      {"d":"2019-10-18","o":2.54,"h":2.58,"l":2.49,"c":2.53},
      {"d":"2019-10-25","o":2.54,"h":2.58,"l":2.49,"c":2.53},
      {"d":"2019-11-01","o":2.57,"h":2.83,"l":2.53,"c":2.79},
      {"d":"2019-11-08","o":2.87,"h":2.97,"l":2.82,"c":2.86},
      {"d":"2019-11-15","o":2.79,"h":2.83,"l":2.62,"c":2.76},
      {"d":"2019-11-22","o":2.71,"h":2.77,"l":2.67,"c":2.73},
      {"d":"2019-11-29","o":2.75,"h":2.79,"l":2.26,"c":2.30},
      {"d":"2019-12-06","o":2.32,"h":2.40,"l":2.28,"c":2.36},
      {"d":"2019-12-13","o":2.22,"h":2.35,"l":2.18,"c":2.31},
      {"d":"2019-12-20","o":2.30,"h":2.38,"l":2.26,"c":2.34},
      {"d":"2019-12-27","o":2.27,"h":2.31,"l":2.20,"c":2.24},
      {"d":"2020-01-03","o":2.24,"h":2.28,"l":2.08,"c":2.12},
      {"d":"2020-01-10","o":2.11,"h":2.25,"l":2.07,"c":2.21},
      {"d":"2020-01-17","o":2.21,"h":2.25,"l":1.96,"c":2.00},
      {"d":"2020-01-24","o":1.98,"h":2.01,"l":1.83,"c":1.92}
    ],
    "waves": [
      {"d":"2014-02-20","p":9.09,"t":"4"},
      {"d":"2014-02-20","p":8.83,"t":"C"},
      {"d":"2012-08-27","p":6.69,"t":"A"},
      {"d":"2012-04-21","p":4.82,"t":"C"},
      {"d":"2012-04-21","p":4.57,"t":"3"},
      {"d":"2013-08-17","p":4.78,"t":"B"},
      {"d":"2014-11-14","p":7.37,"t":"(ii)"},
      {"d":"2014-10-10","p":5.88,"t":"(i)"},
      {"d":"2016-03-23","p":3.05,"t":"(iii)"},
      {"d":"2016-10-06","p":4.69,"t":"(iv)"},
      {"d":"2018-02-01","p":3.77,"t":"(a)"},
      {"d":"2018-01-04","p":2.30,"t":"(v)"},
      {"d":"2018-01-13","p":2.05,"t":"A of 5"},
      {"d":"2018-08-04","p":2.73,"t":"(b)"},
      {"d":"2018-12-06","p":5.57,"t":"B of 5"},
      {"d":"2018-11-24","p":5.25,"t":"(c)"},
      {"d":"2020-03-30","p":1.61,"t":"C of 5"}
    ],
    "change": [
      {"d":"2018-11-01","p":6.12,"t":"- 44.1%"}
    ],
    "last": [
      {"d":"2022-11-01","p":1.92,"t":"1.920"}
    ]
  },
  "layer": [
    {
      "data": {"name": "candles"},
      "mark": {"type": "rule", "color": "#808080", "strokeWidth": 1},
      "encoding": {
        "x": {
          "field": "d",
          "type": "temporal",
          "scale": {
            "type": "utc",
            "domain": [
              {"year": 2011, "month": 4, "date": 19, "utc": true},
              {"year": 2022, "month": 11, "date": 1, "utc": true}
            ]
          },
          "axis": {
            "title": null,
            "orient": "bottom",
            "format": "'%y",
            "tickCount": {"interval": "month", "step": 3},
            "labelExpr": "utcmonth(datum.value) == 0 ? datum.label : ''",
            "labelFont": "Liberation Sans",
            "labelFontSize": 14,
            "labelFontWeight": "bold",
            "labelColor": "#000000",
            "labelPadding": 2,
            "labelOverlap": false,
            "labelFlush": false,
            "tickSize": 5,
            "tickColor": "#000000",
            "domainColor": "#000000",
            "domainWidth": 1.5,
            "grid": false
          }
        },
        "y": {
          "field": "l",
          "type": "quantitative",
          "scale": {"domain": [0, 9.49], "nice": false, "zero": false},
          "axis": {
            "title": null,
            "orient": "right",
            "values": [1, 2, 3, 4, 5, 6, 7, 8, 9],
            "format": ".3f",
            "labelFont": "Liberation Sans",
            "labelFontSize": 14,
            "labelFontWeight": "bold",
            "labelColor": "#000000",
            "labelPadding": 2,
            "tickSize": 4,
            "tickColor": "#000000",
            "domainColor": "#000000",
            "domainWidth": 1.5,
            "grid": false
          }
        },
        "y2": {"field": "h"}
      }
    },
    {
      "data": {"name": "candles"},
      "mark": {"type": "bar", "size": 3, "stroke": "#202020", "strokeWidth": 0.6, "strokeOpacity": 0.7},
      "encoding": {
        "x": {"field": "d", "type": "temporal"},
        "y": {"field": "o", "type": "quantitative"},
        "y2": {"field": "c"},
        "color": {
          "condition": {"test": "datum.c >= datum.o", "value": "#00703a"},
          "value": "#ff0000"
        }
      }
    },
    {
      "data": {"name": "waves"},
      "mark": {
        "type": "text",
        "font": "Liberation Sans",
        "fontSize": 20,
        "fontWeight": "bold",
        "color": "#0000ff",
        "align": "center",
        "baseline": "middle"
      },
      "encoding": {
        "x": {"field": "d", "type": "temporal"},
        "y": {"field": "p", "type": "quantitative"},
        "text": {"field": "t"}
      }
    },
    {
      "data": {"name": "change"},
      "mark": {
        "type": "text",
        "font": "Liberation Sans",
        "fontSize": 20,
        "fontWeight": "bold",
        "color": "#ff0000",
        "align": "center",
        "baseline": "middle"
      },
      "encoding": {
        "x": {"field": "d", "type": "temporal"},
        "y": {"field": "p", "type": "quantitative"},
        "text": {"field": "t"}
      }
    },
    {
      "data": {"name": "last"},
      "mark": {
        "type": "point",
        "shape": "M0,0 L0.7,-0.85 L4.8,-0.85 L4.8,0.85 L0.7,0.85 Z",
        "size": 400,
        "filled": true,
        "opacity": 1,
        "color": "#ff2a2a"
      },
      "encoding": {
        "x": {"field": "d", "type": "temporal"},
        "y": {"field": "p", "type": "quantitative"}
      }
    },
    {
      "data": {"name": "last"},
      "mark": {
        "type": "text",
        "font": "Liberation Sans",
        "fontSize": 14,
        "fontWeight": "bold",
        "color": "#ffffff",
        "align": "center",
        "baseline": "middle",
        "dx": 25
      },
      "encoding": {
        "x": {"field": "d", "type": "temporal"},
        "y": {"field": "p", "type": "quantitative"},
        "text": {"field": "t"}
      }
    }
  ]
}
